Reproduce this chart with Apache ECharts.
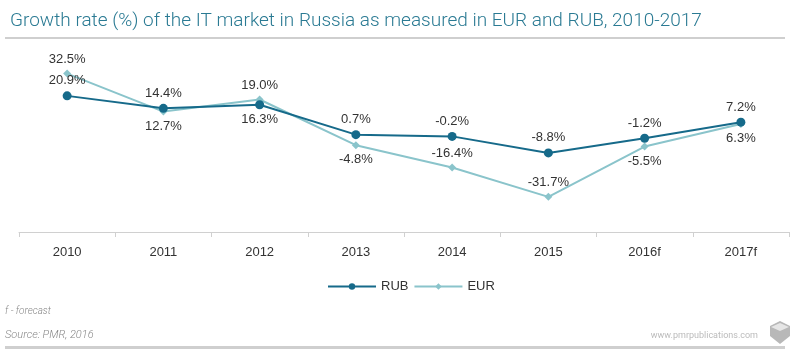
<!DOCTYPE html>
<html><head><meta charset="utf-8">
<script src="https://cdn.jsdelivr.net/npm/echarts@6/dist/echarts.min.js"></script>
<style>html,body{margin:0;padding:0;background:#fff}#c{width:800px;height:350px}</style>
</head><body><div id="c"></div>
<script>
const categories = ['2010','2011','2012','2013','2014','2015','2016f','2017f'];
const rub = [20.9, 14.4, 16.3, 0.7, -0.2, -8.8, -1.2, 7.2];
const eur = [32.5, 12.7, 19.0, -4.8, -16.4, -31.7, -5.5, 6.3];
const rubLabelPos = ['top','top','bottom','top','top','top','top','top'];
const eurLabelPos = ['top','bottom','top','bottom','top','top','bottom','bottom'];

const chart = echarts.init(document.getElementById('c'));
const FF = '"Liberation Sans", Arial, sans-serif';
const lblFont = {fontFamily:FF, fontSize:13, color:'#333'};
function mk(vals, pos){
  return vals.map((v,i)=>({value:v, label:{position:pos[i]}}));
}
chart.setOption({
  animation:false,
  textStyle:{fontFamily:FF},
  title:{text:'Growth rate (%) of the IT market in Russia as measured in EUR and RUB, 2010-2017',
    left:5, top:7, textStyle:{fontFamily:'Roboto', fontWeight:300, fontSize:19, color:'#2a7a93'}},
  grid:{left:19, right:11, top:40, bottom:118},
  legend:{bottom:52, left:322, itemWidth:48, itemHeight:8, itemGap:5,
    textStyle:{fontFamily:FF, fontSize:13, color:'#333'},
    data:['RUB','EUR']},
  xAxis:{type:'category', data:categories, boundaryGap:true,
    axisLine:{onZero:false, lineStyle:{color:'#d0d0d0'}}, axisTick:{show:true, length:5, lineStyle:{color:'#d0d0d0'}},
    axisLabel:{fontFamily:FF, fontSize:13, color:'#333', margin:14}},
  yAxis:{type:'value', min:-50, max:50, show:false, splitLine:{show:false}},
  series:[
    {name:'RUB', type:'line', data:mk(rub, rubLabelPos), symbol:'circle', symbolSize:9,
      lineStyle:{width:2, color:'#166a8a'}, itemStyle:{color:'#166a8a'},
      label:{show:true, formatter:p=>p.value.toFixed(1)+'%', distance:4, ...lblFont}, z:3},
    {name:'EUR', type:'line', data:mk(eur, eurLabelPos), symbol:'diamond', symbolSize:8,
      lineStyle:{width:2, color:'#8ac4cb'}, itemStyle:{color:'#8ac4cb'},
      label:{show:true, formatter:p=>p.value.toFixed(1)+'%', distance:4, ...lblFont}, z:2}
  ],
  graphic:[
    {type:'rect', shape:{x:5, y:37, width:780, height:2}, style:{fill:'#cfcfcf'}},
    {type:'rect', shape:{x:5, y:346, width:780, height:3}, style:{fill:'#cfcfcf'}},
    {type:'text', left:5, top:306, style:{text:'f - forecast', font:'italic 300 10px Roboto', fill:'#888'}},
    {type:'text', left:5, top:330, style:{text:'Source: PMR, 2016', font:'italic 300 11px Roboto', fill:'#888'}},
    {type:'text', right:42, top:331, style:{text:'www.pmrpublications.com', font:'9px Roboto', fill:'#bbb'}},
    {type:'polygon', shape:{points:[[770,326],[780,321],[790,326],[790,336],[780,344],[770,336]]}, style:{fill:'#b8b8b8'}},
    {type:'polygon', shape:{points:[[771,327],[780,331],[789,327],[780,323]]}, style:{fill:'#e6e6e6'}}
  ]
});
</script></body></html>
